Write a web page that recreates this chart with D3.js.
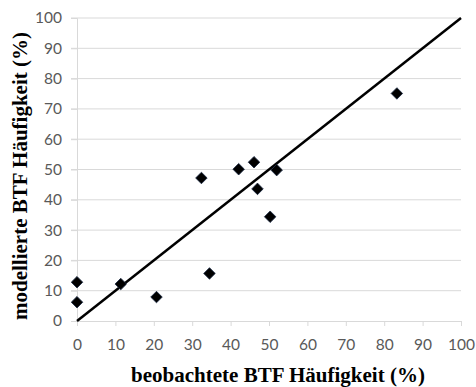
<!DOCTYPE html>
<html>
<head>
<meta charset="utf-8">
<script src="https://cdn.jsdelivr.net/npm/d3@7"></script>
<style>
html,body{margin:0;padding:0;background:#fff;}
svg{display:block;}
</style>
</head>
<body>
<svg id="chart" width="476" height="387"></svg>
<script>
const observed = [0, 0, 11.4, 20.7, 32.4, 34.5, 42.1, 46.1, 47.0, 50.3, 52.0, 83.3];
const modelled = [12.8, 6.2, 12.2, 7.9, 47.2, 15.7, 50.1, 52.4, 43.6, 34.4, 49.8, 75.1];
const refLine = [[0, 0], [100, 100]];
const xTicks = [0, 10, 20, 30, 40, 50, 60, 70, 80, 90, 100];
const yTicks = [0, 10, 20, 30, 40, 50, 60, 70, 80, 90, 100];
const xTitle = "beobachtete BTF Häufigkeit (%)";
const yTitle = "modellierte BTF Häufigkeit (%)";

const svg = d3.select("#chart");
const x = d3.scaleLinear().domain([0, 100]).range([77, 461]);
const y = d3.scaleLinear().domain([0, 100]).range([321, 18]);

// gridlines
svg.append("g").selectAll("line").data(yTicks.filter(d => d > 0)).join("line")
  .attr("x1", x(0) - 6).attr("x2", x(100))
  .attr("y1", d => y(d)).attr("y2", d => y(d))
  .attr("stroke", "#d9d9d9").attr("stroke-width", 1);

// y axis
const yAxis = svg.append("g").attr("transform", `translate(${x(0)},0)`)
  .call(d3.axisLeft(y).tickValues(yTicks).tickSize(6).tickPadding(9));
yAxis.select(".domain").attr("stroke", "#d9d9d9");
yAxis.selectAll(".tick line").attr("stroke", "#d9d9d9");
yAxis.selectAll("text").attr("fill", "#595959").style("font-family", "Lato, 'Open Sans', sans-serif").style("font-size", "15.5px");

// x axis
const xAxis = svg.append("g").attr("transform", `translate(0,${y(0)})`)
  .call(d3.axisBottom(x).tickValues(xTicks).tickSize(5).tickPadding(13));
xAxis.select(".domain").attr("stroke", "#d9d9d9");
xAxis.selectAll(".tick line").attr("stroke", "#d9d9d9");
xAxis.selectAll("text").attr("fill", "#595959").style("font-family", "Lato, 'Open Sans', sans-serif").style("font-size", "15.5px");

// reference line
svg.append("path")
  .attr("d", d3.line().x(d => x(d[0])).y(d => y(d[1]))(refLine))
  .attr("fill", "none").attr("stroke", "#000").attr("stroke-width", 2.5);

// markers
const diamond = d3.symbol().type(d3.symbolDiamond2).size(85);
svg.append("g").selectAll("path").data(observed.map((v, i) => [v, modelled[i]])).join("path")
  .attr("transform", d => `translate(${x(d[0])},${y(d[1])})`)
  .attr("d", diamond)
  .attr("fill", "#000").attr("stroke", "#1a2a44").attr("stroke-width", 0.8);

// titles
svg.append("text").attr("x", 278).attr("y", 382).attr("text-anchor", "middle")
  .style("font-family", "'Liberation Serif', 'Times New Roman', serif").style("font-weight", "bold").style("font-size", "21px")
  .attr("fill", "#000").text(xTitle);
svg.append("text").attr("transform", "translate(27,176) rotate(-90)").attr("text-anchor", "middle")
  .style("font-family", "'Liberation Serif', 'Times New Roman', serif").style("font-weight", "bold").style("font-size", "21px")
  .attr("fill", "#000").text(yTitle);
</script>
</body>
</html>
